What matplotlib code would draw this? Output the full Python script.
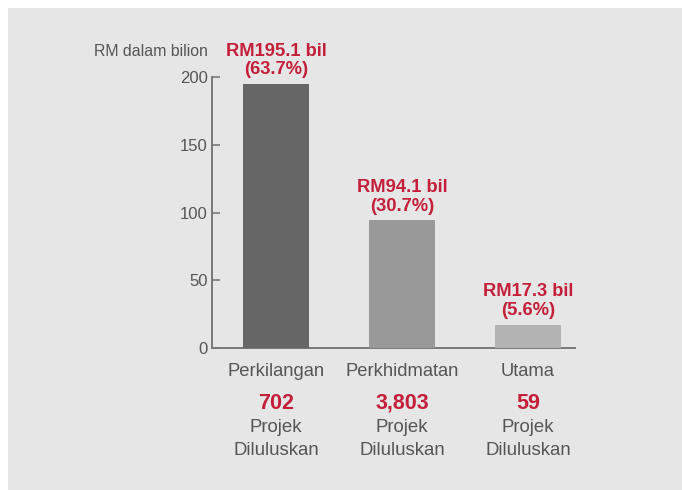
import matplotlib
matplotlib.use('Agg')
import matplotlib.pyplot as plt
from matplotlib.patches import Rectangle
import matplotlib.transforms as mtransforms

CATS = ['Perkilangan', 'Perkhidmatan', 'Utama']
VALUES = [195.1, 94.1, 17.3]
VALUE_LABELS = ['RM195.1 bil\n(63.7%)', 'RM94.1 bil\n(30.7%)', 'RM17.3 bil\n(5.6%)']
PROJECTS = ['702', '3,803', '59']
YTICKS = [0, 50, 100, 150, 200]

BAR_COLORS = ['#666666', '#999999', '#b3b3b3']
RED = '#c41e3a'
TXT = '#555555'
BG = '#e6e6e6'

plt.rcParams['font.family'] = ['Liberation Sans', 'DejaVu Sans']

W, H = 682, 490
fig = plt.figure(figsize=(W/100, H/100), dpi=100, facecolor='white')
fig.patches.append(Rectangle((8/W, 0), 1 - 8/W, 1 - 8/H, transform=fig.transFigure,
                             facecolor=BG, edgecolor='none', zorder=-5))

ax = fig.add_axes([212/W, 1 - 348/H, (575-212)/W, (348-77)/H])
ax.set_zorder(2)
ax.patch.set_alpha(0)
x = range(len(CATS))
ax.bar(x, VALUES, width=0.524, color=BAR_COLORS, zorder=3)
ax.set_xlim(-0.508, 2.373)
ax.set_ylim(0, 200)
ax.set_yticks(YTICKS)
ax.tick_params(axis='y', direction='in', length=6, width=1.2, color='#777777',
               labelcolor=TXT, labelsize=12, pad=3)
ax.set_xticks(list(x))
ax.set_xticklabels(CATS)
ax.tick_params(axis='x', length=0, labelcolor=TXT, labelsize=13.2, pad=11)
for s in ['top', 'right']:
    ax.spines[s].set_visible(False)
for s in ['left', 'bottom']:
    ax.spines[s].set_color('#777777')
    ax.spines[s].set_linewidth(1.4)

for i, (v, lab) in enumerate(zip(VALUES, VALUE_LABELS)):
    ax.annotate(lab, (i, v), xytext=(0, 4), textcoords='offset points',
                ha='center', va='bottom', color=RED, fontsize=13.2,
                fontweight='bold', linespacing=1.12, annotation_clip=False)

trans = mtransforms.blended_transform_factory(ax.transData, fig.transFigure)
for i, p in enumerate(PROJECTS):
    ax.text(i, 1 - 403/H, p, transform=trans, ha='center', va='center',
            color=RED, fontsize=15.5, fontweight='bold', clip_on=False)
    ax.text(i, 1 - 439/H, 'Projek\nDiluluskan', transform=trans, ha='center',
            va='center', color=TXT, fontsize=13.4, linespacing=1.4, clip_on=False)

fig.text(208/W, 1 - 52/H, 'RM dalam bilion', ha='right', va='center',
         color=TXT, fontsize=11.4)

fig.savefig('out.png', dpi=100, facecolor='white')
